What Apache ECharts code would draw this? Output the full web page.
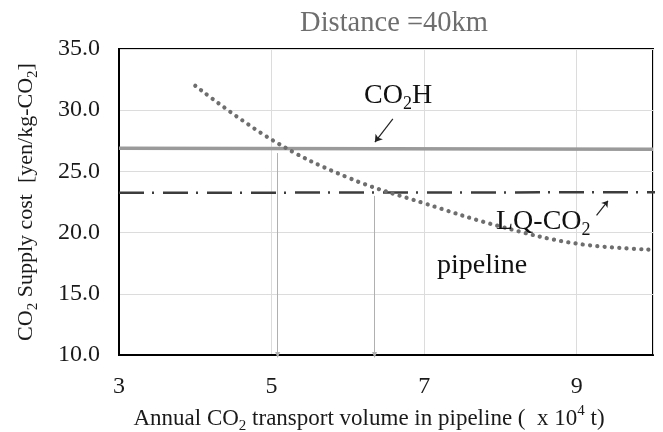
<!DOCTYPE html>
<html>
<head>
<meta charset="utf-8">
<script src="https://cdn.jsdelivr.net/npm/echarts@6/dist/echarts.min.js"></script>
<style>
html,body{margin:0;padding:0;background:#fff;}
#c{width:663px;height:432px;}
</style>
</head>
<body>
<div id="c"></div>
<script>
// ---- data ----
var xTicks = [3, 5, 7, 9];
var yTicks = [10, 15, 20, 25, 30, 35];
var pipelineX = [4, 5, 6, 7, 8, 9, 10];
var pipelineY = [32.0, 27.6, 24.5, 22.4, 20.5, 19.1, 18.6];
var co2hX = [3, 10];
var co2hY = [26.9, 26.8];
var lqX = [3, 10.15];
var lqY = [23.25, 23.3];
var dropX = [5.08, 6.35];
var dropTopY = [26.5, 23.0];
var title = 'Distance =40km';

var FONT = '"Liberation Serif", "Times New Roman", serif';
var chart = echarts.init(document.getElementById('c'), null, {renderer: 'canvas'});

function pairs(xs, ys) { return xs.map(function (x, i) { return [x, ys[i]]; }); }

var option = {
  animation: false,
  backgroundColor: '#fff',
  grid: {left: 119, right: 10, top: 49, bottom: 77, show: true, borderColor: '#000', borderWidth: 2,
         backgroundColor: 'transparent', containLabel: false, outerBoundsMode: 'none'},
  xAxis: {
    type: 'value', min: xTicks[0], max: 10, interval: 2,
    axisLine: {show: true, lineStyle: {color: '#000', width: 2}},
    axisTick: {show: false},
    axisLabel: {fontFamily: FONT, fontSize: 24, color: '#1a1a1a', margin: 20, showMaxLabel: false},
    splitLine: {show: true, lineStyle: {color: '#dcdcdc', width: 1}},
    name: '{a|Annual CO}{s|2}{a| transport volume in pipeline (  x 10}{p|4}{a| t)}',
    nameLocation: 'middle', nameGap: 47,
    nameTextStyle: {
      fontFamily: FONT, fontSize: 23, color: '#1a1a1a', padding: [0, 34, 0, 0],
      rich: {
        a: {fontFamily: FONT, fontSize: 23, color: '#1a1a1a', lineHeight: 30},
        s: {fontFamily: FONT, fontSize: 15, color: '#1a1a1a', verticalAlign: 'bottom'},
        p: {fontFamily: FONT, fontSize: 15, color: '#1a1a1a', verticalAlign: 'top'}
      }
    }
  },
  yAxis: {
    type: 'value', min: yTicks[0], max: yTicks[yTicks.length - 1], interval: 5,
    axisLine: {show: true, lineStyle: {color: '#000', width: 2}},
    axisTick: {show: false},
    axisLabel: {fontFamily: FONT, fontSize: 24, color: '#1a1a1a', margin: 19, formatter: function (v) { return v.toFixed(1); }},
    splitLine: {show: true, lineStyle: {color: '#dcdcdc', width: 1}},
    name: '{a|CO}{s|2}{a| Supply cost  [yen/kg-CO}{s|2}{a|]}',
    nameLocation: 'middle', nameGap: 78, nameRotate: 90,
    nameTextStyle: {
      fontFamily: FONT, fontSize: 22, color: '#1a1a1a',
      rich: {
        a: {fontFamily: FONT, fontSize: 22, color: '#1a1a1a', lineHeight: 30},
        s: {fontFamily: FONT, fontSize: 15, color: '#1a1a1a', verticalAlign: 'bottom'}
      }
    }
  },
  series: [
    {
      name: 'CO2H', type: 'line', data: pairs(co2hX, co2hY), showSymbol: false, symbol: 'none',
      lineStyle: {color: '#9a9a9a', width: 3.5}, z: 3,
      markLine: {
        silent: true, symbol: ['none', 'arrow'], symbolSize: 7, label: {show: false},
        lineStyle: {color: '#222', width: 1.2, type: 'solid'},
        data: [[{coord: [6.59, 29.3]}, {coord: [6.355, 27.4]}]]
      }
    },
    {
      name: 'LQ-CO2', type: 'line', data: pairs(lqX, lqY), showSymbol: false, symbol: 'none', clip: false,
      lineStyle: {color: '#3c3c3c', width: 2.5, type: [25, 8, 2, 9]}, z: 3,
      markLine: {
        silent: true, symbol: ['none', 'arrow'], symbolSize: 6, label: {show: false},
        lineStyle: {color: '#222', width: 1.2, type: 'solid'},
        data: [[{coord: [9.26, 21.4]}, {coord: [9.41, 22.6]}]]
      }
    },
    {
      name: 'pipeline', type: 'line', data: pairs(pipelineX, pipelineY), smooth: 0.4,
      showSymbol: false, symbol: 'none',
      lineStyle: {color: '#6e6e6e', width: 4.2, type: [0.1, 7.2], cap: 'round'}, z: 4
    },
    {
      name: 'drops', type: 'line', data: [], z: 2,
      markLine: {
        silent: true, symbol: ['none', 'triangle'], symbolSize: [5, 6], label: {show: false},
        lineStyle: {color: '#b0b0b0', width: 1, type: 'solid'},
        data: dropX.map(function (x, i) { return [{coord: [x, dropTopY[i]]}, {coord: [x, yTicks[0]]}]; })
      }
    }
  ],
  graphic: [
    {type: 'text', x: 394, y: 24, z: 10, style: {
      text: title, fontFamily: FONT, fontSize: 28.5, fill: '#6e6e6e', align: 'center', verticalAlign: 'middle'
    }},
    {type: 'text', left: 364, top: 82, z: 10, style: {
      text: '{a|CO}{s|2}{a|H}', rich: {
        a: {fontFamily: FONT, fontSize: 28, fill: '#111', lineHeight: 34},
        s: {fontFamily: FONT, fontSize: 18, fill: '#111', verticalAlign: 'bottom'}
      }}},
    {type: 'text', left: 496, top: 208, z: 10, style: {
      text: '{a|LQ-CO}{s|2}', rich: {
        a: {fontFamily: FONT, fontSize: 28, fill: '#111', lineHeight: 34},
        s: {fontFamily: FONT, fontSize: 18, fill: '#111', verticalAlign: 'bottom'}
      }}},
    {type: 'text', left: 437, top: 252, z: 10, style: {
      text: 'pipeline', fontFamily: FONT, fontSize: 28, fill: '#111'
    }}
  ]
};
chart.setOption(option);
</script>
</body>
</html>
